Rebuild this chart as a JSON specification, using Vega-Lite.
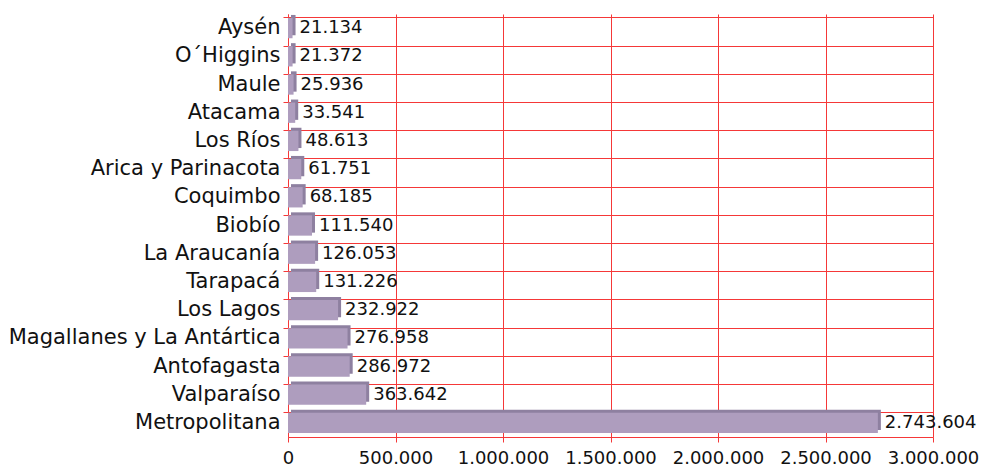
{
  "$schema": "https://vega.github.io/schema/vega-lite/v6.json",
  "width": 645,
  "height": 423,
  "autosize": {"type": "none"},
  "padding": {"left": 288, "top": 14, "right": 51, "bottom": 35},
  "background": "white",
  "config": {
    "view": {"stroke": null},
    "locale": {"number": {"decimal": ",", "thousands": ".", "grouping": [3], "currency": ["$", ""]}},
    "font": "DejaVu Sans"
  },
  "data": {
    "values": [
      {"region": "Aysén", "value": 21134},
      {"region": "O´Higgins", "value": 21372},
      {"region": "Maule", "value": 25936},
      {"region": "Atacama", "value": 33541},
      {"region": "Los Ríos", "value": 48613},
      {"region": "Arica y Parinacota", "value": 61751},
      {"region": "Coquimbo", "value": 68185},
      {"region": "Biobío", "value": 111540},
      {"region": "La Araucanía", "value": 126053},
      {"region": "Tarapacá", "value": 131226},
      {"region": "Los Lagos", "value": 232922},
      {"region": "Magallanes y La Antártica", "value": 276958},
      {"region": "Antofagasta", "value": 286972},
      {"region": "Valparaíso", "value": 363642},
      {"region": "Metropolitana", "value": 2743604}
    ]
  },
  "encoding": {
    "y": {
      "field": "region",
      "type": "nominal",
      "sort": {"field": "value", "order": "ascending"},
      "scale": {"paddingInner": 0.28, "paddingOuter": 0.14},
      "axis": {
        "title": null,
        "bandPosition": 0,
        "grid": true,
        "gridColor": "#F53838",
        "gridOpacity": 1,
        "tickColor": "#F53838",
        "tickSize": 5,
        "domainColor": "#F53838",
        "labelFont": "DejaVu Sans",
        "labelFontSize": 21,
        "labelColor": "#111111",
        "labelPadding": 3,
        "labelLimit": 0
      }
    },
    "x": {
      "field": "value",
      "type": "quantitative",
      "scale": {"domain": [0, 3000000], "nice": false},
      "axis": {
        "title": null,
        "values": [0, 500000, 1000000, 1500000, 2000000, 2500000, 3000000],
        "format": ",d",
        "grid": true,
        "gridColor": "#F53838",
        "gridOpacity": 1,
        "tickColor": "#F53838",
        "tickSize": 5,
        "domainColor": "#F53838",
        "labelFont": "DejaVu Sans",
        "labelFontSize": 18,
        "labelColor": "#111111",
        "labelPadding": 7,
        "labelFlush": false
      }
    }
  },
  "layer": [
    {
      "mark": {"type": "bar", "color": "#8E80A0", "xOffset": 3, "yOffset": -3},
      "encoding": {}
    },
    {
      "mark": {"type": "bar", "color": "#AE9DBE"},
      "encoding": {}
    },
    {
      "mark": {"type": "text", "align": "left", "baseline": "middle", "dx": 7, "fontSize": 18, "font": "DejaVu Sans", "color": "#111111"},
      "encoding": {
        "text": {"field": "value", "type": "quantitative", "format": ",d"}
      }
    }
  ]
}
